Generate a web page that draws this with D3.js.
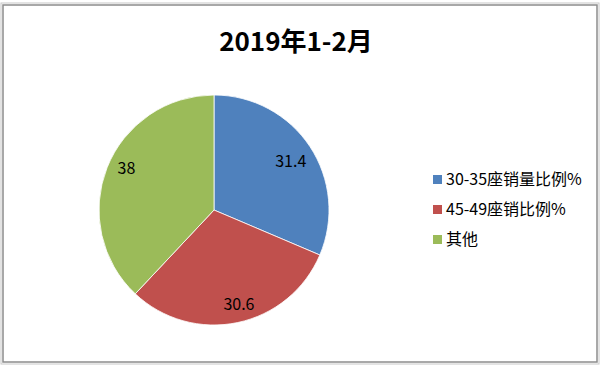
<!DOCTYPE html>
<html><head><meta charset="utf-8">
<script src="https://cdn.jsdelivr.net/npm/d3@7"></script>
<style>body{margin:0;background:#fff;}svg{display:block;}</style>
</head><body>
<svg id="c" width="600" height="368"></svg>
<script>
const categories = ["30-35座销量比例%", "45-49座销比例%", "其他"];
const values = [31.4, 30.6, 38];
const colors = ["#4F81BD", "#C0504D", "#9BBB59"];
const title = "2019年1-2月";

const svg = d3.select("#c");
const font = "'Noto Sans CJK SC','Liberation Sans',sans-serif";
// frame
svg.append("rect").attr("x",3).attr("y",5).attr("width",594).attr("height",357)
  .attr("fill","#fff").attr("stroke","#8c8c8c").attr("stroke-width",1.5);
svg.append("rect").attr("x",1).attr("y",3).attr("width",598).attr("height",361)
  .attr("fill","none").attr("stroke","#c8c8c8").attr("stroke-width",1);

svg.append("text").attr("x",296).attr("y",51).attr("text-anchor","middle")
  .attr("font-family",font).attr("font-weight","bold").attr("font-size",26)
  .attr("fill","#000").text(title);

const cx=214, cy=210, r=115;
const pie = d3.pie().sort(null).value(d=>d)(values);
const arc = d3.arc().innerRadius(0).outerRadius(r);
const g = svg.append("g").attr("transform",`translate(${cx},${cy})`);
g.selectAll("path").data(pie).enter().append("path")
  .attr("d",arc).attr("fill",(d,i)=>colors[i]).attr("stroke","#fff").attr("stroke-width",0.8);
const lab = d3.arc().innerRadius(r*0.8).outerRadius(r*0.8);
const nudge = [[0,2],[6,4],[-2,-8]];
g.selectAll("text").data(pie).enter().append("text")
  .attr("transform",(d,i)=>{const p=lab.centroid(d);return `translate(${p[0]+nudge[i][0]},${p[1]+nudge[i][1]})`;})
  .attr("text-anchor","middle").attr("dy","0.35em")
  .attr("font-family",font).attr("font-size",16).attr("fill","#000")
  .text(d=>d.data);

const lg = svg.append("g");
categories.forEach((c,i)=>{
  const y = 179 + i*30;
  lg.append("rect").attr("x",433).attr("y",y-4).attr("width",9).attr("height",9).attr("fill",colors[i]);
  lg.append("text").attr("x",446).attr("y",y).attr("dy","0.35em")
    .attr("font-family",font).attr("font-size",16).attr("fill","#000").text(c);
});
</script>
</body></html>
